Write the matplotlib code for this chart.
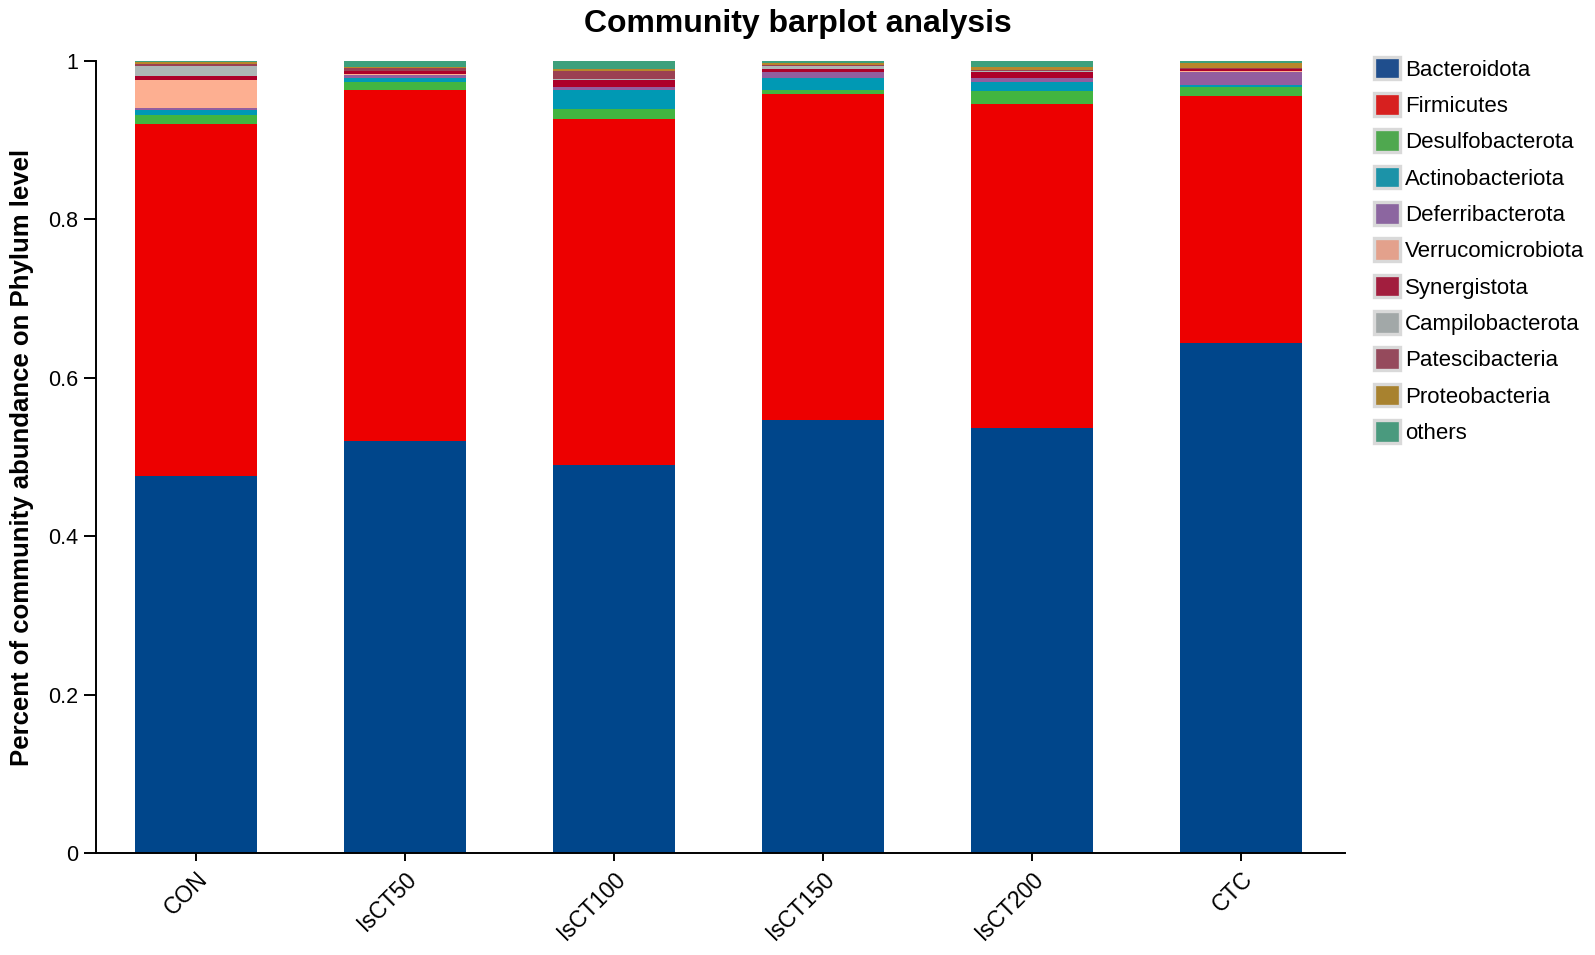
import matplotlib
matplotlib.use("Agg")
import numpy as np
import matplotlib.pyplot as plt
from matplotlib.patches import Patch

plt.rcParams['font.family'] = ['Liberation Sans', 'DejaVu Sans']

samples = ["CON", "IsCT50", "IsCT100", "IsCT150", "IsCT200", "CTC"]

phyla = ["Bacteroidota", "Firmicutes", "Desulfobacterota", "Actinobacteriota",
         "Deferribacterota", "Verrucomicrobiota", "Synergistota",
         "Campilobacterota", "Patescibacteria", "Proteobacteria", "others"]

bacteroidota = [0.476, 0.520, 0.490, 0.547, 0.537, 0.644]
firmicutes = [0.444, 0.443, 0.437, 0.411, 0.409, 0.312]
desulfobacterota = [0.012, 0.010, 0.0126, 0.006, 0.016, 0.0118]
actinobacteriota = [0.006, 0.005, 0.0236, 0.015, 0.011, 0.0025]
deferribacterota = [0.0025, 0.004, 0.004, 0.0067, 0.005, 0.016]
verrucomicrobiota = [0.035, 0.001, 0.0005, 0.0005, 0.0005, 0.0005]
synergistota = [0.006, 0.004, 0.0084, 0.0042, 0.0076, 0.0025]
campilobacterota = [0.012, 0.001, 0.001, 0.0034, 0.0015, 0.0005]
patescibacteria = [0.0025, 0.003, 0.010, 0.001, 0.001, 0.0017]
proteobacteria = [0.0025, 0.002, 0.0034, 0.0025, 0.0034, 0.0059]
others = [0.0015, 0.007, 0.0095, 0.0027, 0.008, 0.0026]

series = [bacteroidota, firmicutes, desulfobacterota, actinobacteriota,
          deferribacterota, verrucomicrobiota, synergistota, campilobacterota,
          patescibacteria, proteobacteria, others]

bar_colors = ["#00468B", "#ED0000", "#42B540", "#0099B4", "#925E9F", "#FDAF91",
              "#AD002A", "#ADB6B6", "#9B4052", "#B8862B", "#3DA07C"]
legend_colors = ["#1F4E8D", "#D7201F", "#4FA84F", "#1C93A8", "#8C66A0", "#E3A18C",
                 "#A21E3E", "#A2A8A8", "#954A5C", "#A8822F", "#4A9A7E"]

fig = plt.figure(figsize=(15.95, 9.55), dpi=100)
ax = fig.add_axes([0.0602, 0.1068, 0.7831, 0.8293])

x = np.arange(len(samples))
bottom = np.zeros(len(samples))
for vals, col in zip(series, bar_colors):
    ax.bar(x, vals, width=0.584, bottom=bottom, color=col, linewidth=0)
    bottom += np.array(vals)

ax.set_xlim(-0.478, 5.498)
ax.set_ylim(0, 1)
ax.set_yticks([0, 0.2, 0.4, 0.6, 0.8, 1.0])
ax.set_yticklabels(["0", "0.2", "0.4", "0.6", "0.8", "1"])
ax.set_xticks(x)
ax.set_xticklabels(samples, rotation=45, ha="right", rotation_mode="anchor")
ax.tick_params(axis="both", width=1.4, color="black", pad=4)
ax.tick_params(axis="y", length=8.6, labelsize=15.5)
ax.tick_params(axis="x", length=6, labelsize=16.5)
for side in ["top", "right"]:
    ax.spines[side].set_visible(False)
for side in ["left", "bottom"]:
    ax.spines[side].set_linewidth(1.4)

ax.set_ylabel("Percent of community abundance on Phylum level",
              fontsize=18.5, fontweight="bold")
ax.yaxis.set_label_coords(-0.050, 0.5)
fig.text(0.5, 0.9665, "Community barplot analysis", ha="center", va="baseline",
         fontsize=23, fontweight="bold")

handles = [Patch(facecolor=c, edgecolor="#d9d9d9", linewidth=2.4) for c in legend_colors]
fig.legend(handles, phyla, loc="upper left", bbox_to_anchor=(0.8613, 0.9407),
           frameon=False, fontsize=16, handlelength=1.2, handleheight=1.2,
           handletextpad=0.2, labelspacing=0.56, borderaxespad=0, borderpad=0)

fig.savefig("out.png", dpi=100)
